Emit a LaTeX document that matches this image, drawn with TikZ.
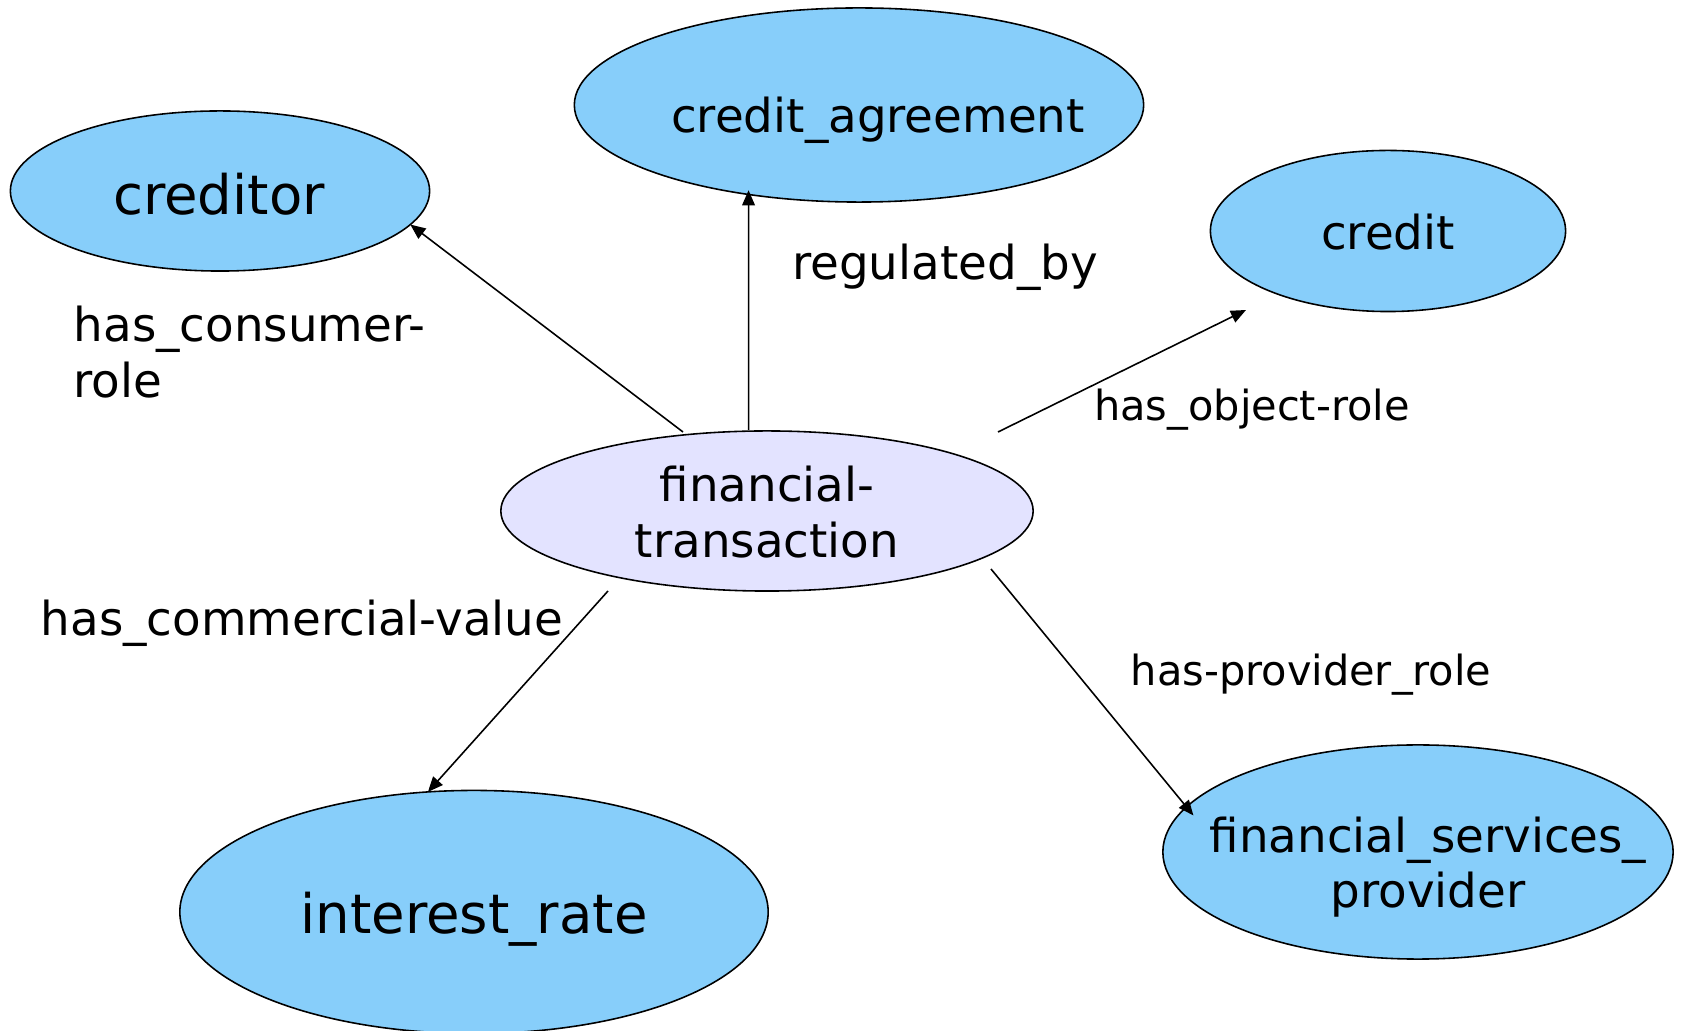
\documentclass[tikz,border=0pt]{standalone}
\usepackage{fontspec}
\setmainfont{DejaVu Sans}
\usetikzlibrary{arrows.meta,shapes.geometric,positioning}
\definecolor{skyfill}{RGB}{135,206,250}
\definecolor{lavfill}{RGB}{227,227,255}
\tikzset{
	topic/.style={ellipse, draw, fill=skyfill, line width=0.45pt, inner sep=0pt, outer sep=0pt},
	bigtxt/.style={font=\fontsize{15.5}{18}\selectfont, inner sep=0pt},
	midtxt/.style={font=\fontsize{13.3}{15.8}\selectfont, inner sep=0pt, align=center},
	smalltxt/.style={font=\fontsize{11.8}{14}\selectfont, inner sep=0pt},
	rel/.style={line width=0.45pt, -{Triangle[length=4.3pt,width=3.6pt]}}
}
\begin{document}
\begin{tikzpicture}[x=0.01cm, y=-0.01cm]
	\useasboundingbox (0,0) rectangle (1684,1031);
	% concepts
	\node [topic, minimum width=4.19cm, minimum height=1.60cm] (creditor) at (220,191) {};
	\node [topic, minimum width=5.69cm, minimum height=1.94cm] (agreement) at (859,105) {};
	\node [topic, minimum width=3.55cm, minimum height=1.61cm] (credit) at (1388,231) {};
	\node [topic, fill=lavfill, minimum width=5.32cm, minimum height=1.60cm] (trans) at (767,511) {};
	\node [topic, minimum width=5.88cm, minimum height=2.43cm] (rate) at (474,912) {};
	\node [topic, minimum width=5.10cm, minimum height=2.14cm] (provider) at (1418,852) {};
	\node [bigtxt] (creditortxt) at (219,194) {creditor};
	\node [midtxt] (agreementtxt) at (878,120) {credit\_agreement};
	\node [midtxt] (credittxt) at (1388,232) {credit};
	\node [midtxt] (transtxt) at (767,512) {financial-\\transaction};
	\node [bigtxt] (ratetxt) at (474,919) {interest\_rate};
	\node [midtxt] (providertxt) at (1428,867) {financial\_services\_\\provider};
	% relations
	\coordinate (s1) at (683,432);
	\coordinate (s2) at (748.6,430);
	\coordinate (s3) at (998,432);
	\coordinate (e3) at (1246,310);
	\coordinate (s4) at (608,591);
	\coordinate (s5) at (991,569);
	\draw [rel] (s1) -- (creditor.-10);
	\draw [rel, shorten >=-1.2pt] (s2) -- (agreement.-141);
	\draw [rel] (s3) -- (e3);
	\draw [rel] (s4) -- (rate.111);
	\draw [rel, shorten >=-3.1pt] (s5) -- (provider.169);
	\node [midtxt, align=left, anchor=west] (consumerlbl) at (73,352) {has\_consumer-\\role};
	\node [midtxt] (regulatedlbl) at (945,267) {regulated\_by};
	\node [smalltxt] (objectlbl) at (1252,410) {has\_object-role};
	\node [midtxt] (commerciallbl) at (302,623) {has\_commercial-value};
	\node [smalltxt] (providerlbl) at (1311,675) {has-provider\_role};
\end{tikzpicture}
\end{document}
